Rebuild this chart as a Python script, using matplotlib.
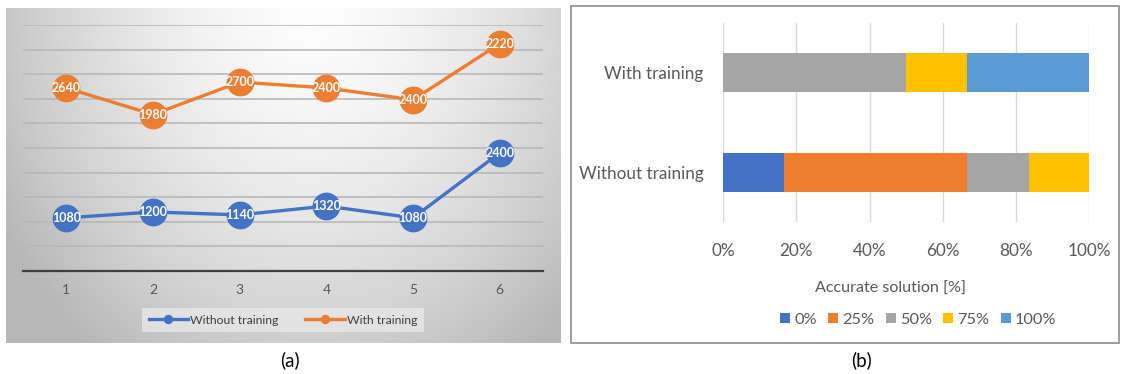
import numpy as np
import matplotlib
matplotlib.use('Agg')
import matplotlib.pyplot as plt
from matplotlib.patches import Rectangle

plt.rcParams['font.family'] = ['Lato', 'DejaVu Sans']

# ---- data (a): stacked line chart
runs = [1, 2, 3, 4, 5, 6]
without_training = [1080, 1200, 1140, 1320, 1080, 2400]
with_training = [2640, 1980, 2700, 2400, 2400, 2220]

# ---- data (b): share of accurate solutions
groups = ['Without training', 'With training']
levels = ['0%', '25%', '50%', '75%', '100%']
shares = {
    'Without training': [16.7, 50.0, 16.7, 16.7, 0.0],
    'With training': [0.0, 0.0, 50.0, 16.7, 33.3],
}

blue = '#4472C4'
orange = '#ED7D31'
bar_colors = ['#4472C4', '#ED7D31', '#A5A5A5', '#FFC000', '#5B9BD5']
txt = '#595959'

fig = plt.figure(figsize=(11.22, 3.74), dpi=100)

# gradient background behind chart (a)
bg = fig.add_axes([0.0053, 0.083, 0.4938, 0.8957], zorder=0)
gx, gy = np.meshgrid(np.linspace(0, 1, 400), np.linspace(0, 1, 240))
r = np.sqrt(((gx - 0.55) / 0.55) ** 2 + ((gy - 0.0) / 1.1) ** 2)
shade = np.clip(0.99 - 0.21 * r ** 1.6, 0.72, 1)
bg.imshow(np.dstack([shade] * 3), aspect='auto', extent=[0, 1, 1, 0])
bg.set_axis_off()

# ---- chart (a)
ax1 = fig.add_axes([0.0205, 0.2754, 0.4635, 0.6578], zorder=1)
ax1.patch.set_alpha(0)
lower = np.array(without_training)
upper = lower + np.array(with_training)
ax1.plot(runs, lower, color=blue, lw=2.4, marker='o', ms=19, label='Without training', zorder=3)
ax1.plot(runs, upper, color=orange, lw=2.4, marker='o', ms=19, label='With training', zorder=3)
for x, yv, v in zip(runs, lower, without_training):
    ax1.text(x, yv, str(v), color='white', fontsize=9, fontweight='bold',
             ha='center', va='center', zorder=4)
for x, yv, v in zip(runs, upper, with_training):
    ax1.text(x, yv, str(v), color='white', fontsize=9, fontweight='bold',
             ha='center', va='center', zorder=4)
ax1.set_xlim(0.5, 6.5)
ax1.set_ylim(0, 5000)
ax1.set_yticks(np.arange(0, 5001, 500))
ax1.yaxis.grid(True, color='#b8b8b8', lw=1.2)
ax1.set_axisbelow(True)
ax1.tick_params(axis='y', left=False, labelleft=False)
ax1.tick_params(axis='x', length=0, pad=9, labelsize=10, labelcolor=txt)
ax1.set_xticks(runs)
for s in ['top', 'right', 'left']:
    ax1.spines[s].set_visible(False)
ax1.spines['bottom'].set_color('#404040')
ax1.spines['bottom'].set_linewidth(1.6)
leg1 = ax1.legend(loc='center', bbox_to_anchor=(0.5, -0.2), ncol=2, frameon=True,
                  fontsize=8.8, markerscale=0.3, handlelength=3.2, columnspacing=2.2,
                  handletextpad=0.2, borderpad=0.55, fancybox=False)
leg1.get_frame().set_facecolor('#e6e6e6')
leg1.get_frame().set_edgecolor('none')
leg1.get_frame().set_alpha(0.85)
for t in leg1.get_texts():
    t.set_color('#404040')

# ---- chart (b)
fig.patches.append(Rectangle((571 / 1122, 1 - 343 / 374), 548 / 1122, 337 / 374,
                             transform=fig.transFigure, fill=False,
                             edgecolor='#8c8c8c', lw=1.2))
ax2 = fig.add_axes([0.6444, 0.4064, 0.3265, 0.532])
left = np.zeros(len(groups))
for i, lev in enumerate(levels):
    vals = np.array([shares[g][i] for g in groups])
    ax2.barh(range(len(groups)), vals, left=left, height=0.39,
             color=bar_colors[i], label=lev, zorder=2)
    left += vals
ax2.set_xlim(0, 100)
ax2.set_ylim(-0.5, 1.5)
ax2.set_xticks(np.arange(0, 101, 20))
ax2.set_xticklabels([f'{v}%' for v in range(0, 101, 20)])
ax2.set_yticks(range(len(groups)))
ax2.set_yticklabels(groups)
ax2.xaxis.grid(True, color='#d9d9d9', lw=1)
ax2.set_axisbelow(True)
for s in ax2.spines.values():
    s.set_visible(False)
ax2.tick_params(axis='x', length=0, pad=15, labelsize=12.3, labelcolor=txt)
ax2.tick_params(axis='y', length=0, pad=14, labelsize=12.3, labelcolor=txt)
ax2.set_xlabel('Accurate solution [%]', fontsize=11.6, color=txt)
ax2.xaxis.set_label_coords(0.456, -0.30)
ax2.legend(loc='center', bbox_to_anchor=(0.533, -0.49), ncol=5, frameon=False,
           fontsize=11.8, handlelength=0.6, handleheight=0.6, handletextpad=0.25,
           columnspacing=0.7, labelcolor=txt)

fig.text(290 / 1122, 1 - 360 / 374, '(a)', fontsize=13.5, ha='center', va='center', color='black')
fig.text(862 / 1122, 1 - 360 / 374, '(b)', fontsize=13.5, ha='center', va='center', color='black')

fig.savefig('out.png', dpi=100)
